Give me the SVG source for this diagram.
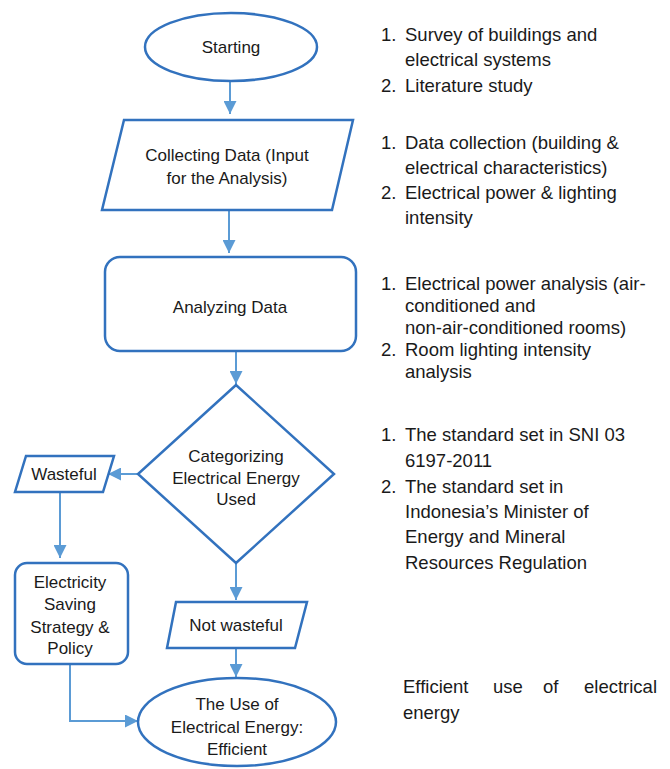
<svg xmlns="http://www.w3.org/2000/svg" width="670" height="769" viewBox="0 0 670 769">
<defs>
<style>
.shape{fill:#ffffff;stroke:#3272BE;stroke-width:2.5}
.conn{fill:none;stroke:#5B9BD5;stroke-width:2}
.nt{font-family:"Liberation Sans",Arial,sans-serif;font-size:17px;fill:#1a1a1a;text-anchor:middle}
.rt{font-family:"Liberation Sans",Arial,sans-serif;font-size:18.5px;fill:#1a1a1a}
</style>
<marker id="arr" viewBox="0 0 10 10" markerWidth="13" markerHeight="13" markerUnits="userSpaceOnUse" refX="10" refY="5" orient="auto">
<path d="M0,0 L10,5 L0,10 z" fill="#5B9BD5"/>
</marker>
</defs>
<rect width="670" height="769" fill="#ffffff"/>
<g id="connectors">
<path class="conn" d="M230,81 L230,114" marker-end="url(#arr)"/>
<path class="conn" d="M229,210 L229,253" marker-end="url(#arr)"/>
<path class="conn" d="M236,351 L236,384" marker-end="url(#arr)"/>
<path class="conn" d="M138,474 L108,474" marker-end="url(#arr)"/>
<path class="conn" d="M60,492 L60,558" marker-end="url(#arr)"/>
<path class="conn" d="M236,563 L236,600" marker-end="url(#arr)"/>
<path class="conn" d="M236,648 L236,677" marker-end="url(#arr)"/>
<path class="conn" d="M70,664 L70,721 L138,721" marker-end="url(#arr)"/>
</g>
<g id="starting">
<ellipse class="shape" cx="231" cy="47" rx="86" ry="34"/>
<text class="nt" x="231" y="53">Starting</text>
</g>
<g id="collecting">
<polygon class="shape" points="124,120 353,120 332,210 102,210"/>
<text class="nt" x="227" y="161">Collecting Data (Input</text>
<text class="nt" x="227" y="184">for the Analysis)</text>
</g>
<g id="analyzing">
<rect class="shape" x="105" y="257" width="251" height="94" rx="15"/>
<text class="nt" x="230" y="313">Analyzing Data</text>
</g>
<g id="categorizing">
<polygon class="shape" points="236,385 334,474 236,563 138,474"/>
<text class="nt" x="236" y="462">Categorizing</text>
<text class="nt" x="236" y="484">Electrical Energy</text>
<text class="nt" x="236" y="505">Used</text>
</g>
<g id="wasteful">
<polygon class="shape" points="26,456 114,456 103,492 15,492"/>
<text class="nt" x="64" y="480">Wasteful</text>
</g>
<g id="strategy">
<rect class="shape" x="15" y="563" width="113" height="101" rx="12"/>
<text class="nt" x="70" y="588">Electricity</text>
<text class="nt" x="70" y="610">Saving</text>
<text class="nt" x="70" y="633">Strategy &amp;</text>
<text class="nt" x="70" y="654">Policy</text>
</g>
<g id="notwasteful">
<polygon class="shape" points="176,602 307,602 295,648 167,648"/>
<text class="nt" x="236" y="631">Not wasteful</text>
</g>
<g id="efficient">
<ellipse class="shape" cx="237" cy="722" rx="99" ry="44"/>
<text class="nt" x="237" y="710">The Use of</text>
<text class="nt" x="237" y="733">Electrical Energy:</text>
<text class="nt" x="237" y="755">Efficient</text>
</g>
<g id="notes">
<text class="rt" x="381" y="41">1.</text><text class="rt" x="405" y="41">Survey of buildings and</text>
<text class="rt" x="405" y="66">electrical systems</text>
<text class="rt" x="381" y="92">2.</text><text class="rt" x="405" y="92">Literature study</text>

<text class="rt" x="381" y="149">1.</text><text class="rt" x="405" y="149">Data collection (building &amp;</text>
<text class="rt" x="405" y="174">electrical characteristics)</text>
<text class="rt" x="381" y="199">2.</text><text class="rt" x="405" y="199">Electrical power &amp; lighting</text>
<text class="rt" x="405" y="224">intensity</text>

<text class="rt" x="381" y="290">1.</text><text class="rt" x="405" y="290">Electrical power analysis (air-</text>
<text class="rt" x="405" y="312">conditioned and</text>
<text class="rt" x="405" y="334">non-air-conditioned rooms)</text>
<text class="rt" x="381" y="356">2.</text><text class="rt" x="405" y="356">Room lighting intensity</text>
<text class="rt" x="405" y="378">analysis</text>

<text class="rt" x="381" y="441">1.</text><text class="rt" x="405" y="441">The standard set in SNI 03</text>
<text class="rt" x="405" y="467">6197-2011</text>
<text class="rt" x="381" y="493">2.</text><text class="rt" x="405" y="493">The standard set in</text>
<text class="rt" x="405" y="518">Indonesia’s Minister of</text>
<text class="rt" x="405" y="543">Energy and Mineral</text>
<text class="rt" x="405" y="569">Resources Regulation</text>

<text class="rt" x="403" y="693">Efficient</text>
<text class="rt" x="493" y="693">use</text>
<text class="rt" x="543" y="693">of</text>
<text class="rt" x="657" y="693" text-anchor="end">electrical</text>
<text class="rt" x="403" y="719">energy</text>
</g>
</svg>
